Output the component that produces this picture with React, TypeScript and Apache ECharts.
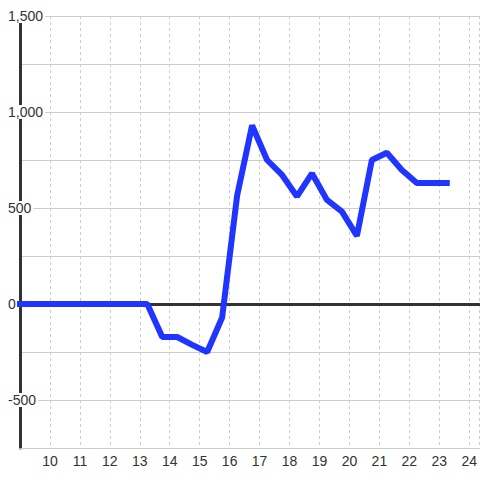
import React, { useEffect, useRef } from "react";
import * as echarts from "echarts";

const hours = [8.75, 9.25, 9.75, 10.25, 10.75, 11.25, 11.75, 12.25, 12.75, 13.25, 13.75, 14.25, 14.75, 15.25, 15.75, 16.25, 16.75, 17.25, 17.75, 18.25, 18.75, 19.25, 19.75, 20.25, 20.75, 21.25, 21.75, 22.25, 22.75, 23.25];
const values = [0, 0, 0, 0, 0, 0, 0, 0, 0, 0, -172, -172, -213, -250, -70, 565, 930, 750, 672, 560, 680, 542, 481, 355, 750, 788, 698, 630, 630, 630];

const yMin = -750;
const yMax = 1500;
const yStep = 250;
const labelStep = 500;
const xMin = 9;
const xMax = 24 + 1 / 3;

const FONT = "'Liberation Sans', Arial, sans-serif";

export default function App() {
  const ref = useRef<HTMLDivElement>(null);
  useEffect(() => {
    if (!ref.current) return;
    const chart = echarts.init(ref.current, null, { renderer: "svg" });
    const data = hours.map((h, i) => [h, values[i]]);
    chart.setOption({
      animation: false,
      backgroundColor: "#ffffff",
      grid: { left: 20, right: 0, top: 16, bottom: 32, containLabel: false },
      xAxis: [
        {
          type: "value",
          min: xMin,
          max: xMax,
          interval: 1,
          axisLine: { show: true, onZero: false, lineStyle: { color: "#cccccc", width: 1 } },
          axisTick: { show: false },
          splitLine: { show: true, lineStyle: { color: "#cccccc", width: 1, type: [3, 3] } },
          axisLabel: {
            showMinLabel: false,
            showMaxLabel: false,
            color: "#333333",
            fontSize: 14,
            fontFamily: FONT,
            margin: 6,
          },
        },
        {
          type: "value",
          min: xMin,
          max: xMax,
          position: "bottom",
          axisLine: { show: true, onZero: true, lineStyle: { color: "#333333", width: 3 } },
          axisTick: { show: false },
          axisLabel: { show: false },
          splitLine: { show: false },
        },
      ],
      yAxis: {
        type: "value",
        min: yMin,
        max: yMax,
        interval: yStep,
        axisLine: { show: true, lineStyle: { color: "#333333", width: 3 } },
        axisTick: { show: false },
        splitLine: { show: true, lineStyle: { color: "#cccccc", width: 1 } },
        axisLabel: {
          formatter: (v: number) => (v % labelStep === 0 ? v.toLocaleString("en-US") : ""),
          align: "left",
          margin: 13,
          color: "#333333",
          fontSize: 14,
          fontFamily: FONT,
          backgroundColor: "#ffffff",
          padding: [0, 2, 0, 1],
          lineHeight: 14,
        },
      },
      series: [
        {
          type: "line",
          xAxisIndex: 0,
          data,
          symbol: "none",
          z: 3,
          clip: true,
          lineStyle: { color: "#2035ff", width: 6, join: "bevel", cap: "square" },
        },
      ],
    });
    return () => chart.dispose();
  }, []);
  return (
    <div
      ref={ref}
      style={{ position: "fixed", left: 0, top: 0, width: 480, height: 480 }}
    />
  );
}
